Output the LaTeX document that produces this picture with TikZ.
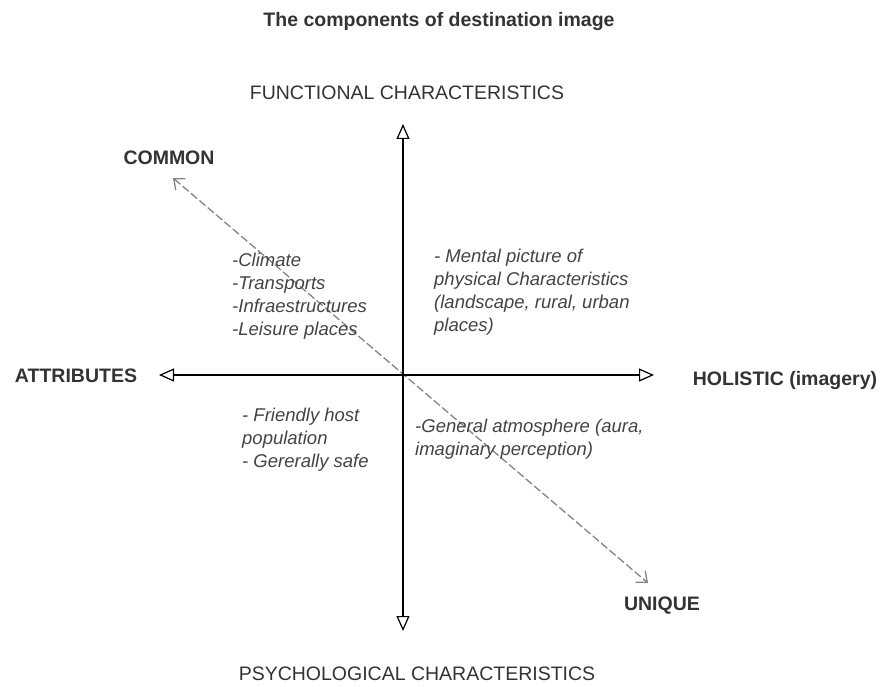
\documentclass[tikz,border=0pt]{standalone}
\usepackage{fontspec}
\setmainfont{Liberation Sans}
\usetikzlibrary{arrows.meta}
\definecolor{txt}{HTML}{333333}
\definecolor{itx}{HTML}{444444}
\definecolor{dg}{HTML}{858585}
\tikzset{
  axis/.style={line width=1.2pt, black, -{Triangle[open,length=15pt,width=13pt,line width=1.2pt]}},
  diag/.style={line width=1.3pt, dg, dash pattern=on 8pt off 3pt, {Straight Barb[length=9pt,width=15pt,line width=1.3pt]}-{Straight Barb[length=9pt,width=15pt,line width=1.3pt]}},
  lab/.style={anchor=base, inner sep=0pt, text=txt, font=\fontsize{19.5}{23}\selectfont},
  blab/.style={lab, font=\fontsize{19.5}{23}\selectfont\bfseries},
  itext/.style={anchor=north west, inner sep=0pt, align=left, text=itx, font=\fontsize{18.5}{23}\selectfont\itshape}
}
\begin{document}
\begin{tikzpicture}[x=1pt,y=-1pt]
\useasboundingbox (0,0) rectangle (886,687);
\fill[white] (0,0) rectangle (886,687);
% axes
\coordinate (o) at (403,375);
\coordinate (top) at (403,124);
\coordinate (bot) at (403,631);
\coordinate (lft) at (159,375);
\coordinate (rgt) at (654,375);
\coordinate (cm) at (173,178);
\coordinate (un) at (648,583);
\draw[diag] (cm) -- (un);
\draw[axis] (o) -- (top);
\draw[axis] (o) -- (bot);
\draw[axis] (o) -- (lft);
\draw[axis] (o) -- (rgt);
% labels
\node[blab] (title) at (439,27) {The components of destination image};
\node[lab] (func) at (407,100) {FUNCTIONAL CHARACTERISTICS};
\node[lab] (psych) at (417,680) {PSYCHOLOGICAL CHARACTERISTICS};
\node[blab] (common) at (169,165) {COMMON};
\node[blab] (attr) at (76,382) {ATTRIBUTES};
\node[blab] (hol) at (785,385) {HOLISTIC (imagery)};
\node[blab] (uniq) at (662,610) {UNIQUE};
% quadrant texts
\node[itext] (q1) at (232,253) {-Climate\\-Transports\\-Infraestructures\\-Leisure places};
\node[itext] (q2) at (434,249) {- Mental picture of\\physical Characteristics\\(landscape, rural, urban\\places)};
\node[itext] (q3) at (242,408) {- Friendly host\\population\\- Gererally safe};
\node[itext] (q4) at (415,419) {-General atmosphere (aura,\\imaginary perception)};
\end{tikzpicture}
\end{document}
